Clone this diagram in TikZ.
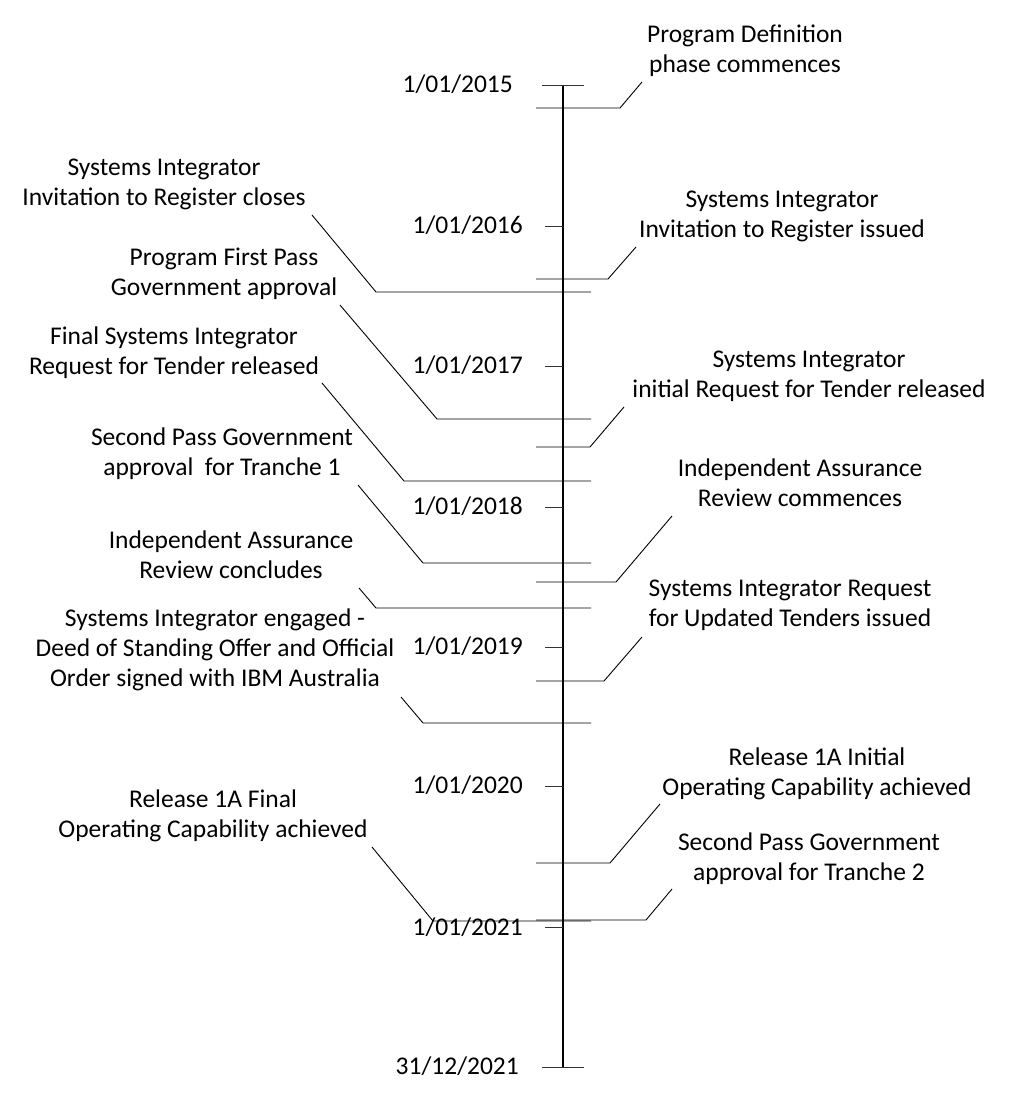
\documentclass[tikz,border=0pt]{standalone}
\usepackage{fontspec}
\setmainfont{Carlito}
\begin{document}
\begin{tikzpicture}[x=1pt,y=-1pt,
  lab/.style={font=\fontsize{25.5}{30}\selectfont, align=center, inner sep=0pt},
  datelab/.style={font=\fontsize{25.5}{30}\selectfont, anchor=east, inner sep=0pt},
  axisline/.style={line width=1.3pt, black},
  evline/.style={line width=0.9pt, black},
  tickline/.style={line width=0.9pt, black!80}]
\fill[white] (0,0) rectangle (1013,1104);
\useasboundingbox (0,0) rectangle (1013,1104);

% axis
\coordinate (top) at (563,85);
\coordinate (bot) at (563,1067);
\coordinate (capTL) at (542,85);
\coordinate (capTR) at (584,85);
\coordinate (capBL) at (542,1067);
\coordinate (capBR) at (584,1067);
\draw[axisline] (top) -- (bot);
\draw[tickline] (capTL) -- (capTR);
\draw[tickline] (capBL) -- (capBR);

% year ticks
\foreach \yr/\yy in {2016/226,2017/366,2018/507,2019/647,2020/786,2021/927}{
  \coordinate (tk\yr a) at (545,\yy);
  \coordinate (tk\yr b) at (563,\yy);
  \draw[tickline] (tk\yr a) -- (tk\yr b);
}

% date labels
\node[datelab] (d2015) at (513,86) {\strut 1/01/2015};
\node[datelab] (d2016) at (523,227) {\strut 1/01/2016};
\node[datelab] (d2017) at (523,367) {\strut 1/01/2017};
\node[datelab] (d2018) at (523,508) {\strut 1/01/2018};
\node[datelab] (d2019) at (523,648) {\strut 1/01/2019};
\node[datelab] (d2020) at (523,787) {\strut 1/01/2020};
\node[datelab] (d2021) at (523,929) {\strut 1/01/2021};
\node[datelab] (d2021e) at (519,1068) {\strut 31/12/2021};

% ---------- right events ----------
\coordinate (r1a) at (536,108); \coordinate (r1b) at (620,108); \coordinate (r1c) at (642,82);
\node[lab] (r1) at (745,51) {\strut Program Definition\\\strut phase commences};
\draw[evline] (r1a) -- (r1b) -- (r1c);

\coordinate (r2a) at (536,279); \coordinate (r2b) at (608,279); \coordinate (r2c) at (636,247);
\node[lab] (r2) at (782,216) {\strut Systems Integrator\\\strut Invitation to Register issued};
\draw[evline] (r2a) -- (r2b) -- (r2c);

\coordinate (r3a) at (536,447); \coordinate (r3b) at (590,447); \coordinate (r3c) at (624,407);
\node[lab] (r3) at (809,376) {\strut Systems Integrator\\\strut initial Request for Tender released};
\draw[evline] (r3a) -- (r3b) -- (r3c);

\coordinate (r4a) at (536,582); \coordinate (r4b) at (616,582); \coordinate (r4c) at (672,516);
\node[lab] (r4) at (800,485) {\strut Independent Assurance\\\strut Review commences};
\draw[evline] (r4a) -- (r4b) -- (r4c);

\coordinate (r5a) at (536,681); \coordinate (r5b) at (604,681); \coordinate (r5c) at (642,637);
\node[lab] (r5) at (790,605) {\strut Systems Integrator Request\\\strut for Updated Tenders issued};
\draw[evline] (r5a) -- (r5b) -- (r5c);

\coordinate (r6a) at (536,863); \coordinate (r6b) at (610,863); \coordinate (r6c) at (660,804);
\node[lab] (r6) at (817,774) {\strut Release 1A Initial\\\strut Operating Capability achieved};
\draw[evline] (r6a) -- (r6b) -- (r6c);

\coordinate (r7a) at (536,920); \coordinate (r7b) at (646,920); \coordinate (r7c) at (672,889);
\node[lab] (r7) at (809,859) {\strut Second Pass Government\\\strut approval for Tranche 2};
\draw[evline] (r7a) -- (r7b) -- (r7c);

% ---------- left events ----------
\coordinate (l1a) at (591,292); \coordinate (l1b) at (376,292); \coordinate (l1c) at (312,215);
\node[lab] (l1) at (164,184) {\strut Systems Integrator\\\strut Invitation to Register closes};
\draw[evline] (l1a) -- (l1b) -- (l1c);

\coordinate (l2a) at (591,419); \coordinate (l2b) at (437,419); \coordinate (l2c) at (340,305);
\node[lab] (l2) at (224,274) {\strut Program First Pass\\\strut Government approval};
\draw[evline] (l2a) -- (l2b) -- (l2c);

\coordinate (l3a) at (591,481); \coordinate (l3b) at (404,481); \coordinate (l3c) at (322,383);
\node[lab] (l3) at (174,353) {\strut Final Systems Integrator\\\strut Request for Tender released};
\draw[evline] (l3a) -- (l3b) -- (l3c);

\coordinate (l4a) at (591,563); \coordinate (l4b) at (423,563); \coordinate (l4c) at (358,485);
\node[lab] (l4) at (222,454) {\strut Second Pass Government\\\strut approval~ for Tranche 1};
\draw[evline] (l4a) -- (l4b) -- (l4c);

\coordinate (l5a) at (591,608); \coordinate (l5b) at (376,608); \coordinate (l5c) at (359,588);
\node[lab] (l5) at (231,557) {\strut Independent Assurance\\\strut Review concludes};
\draw[evline] (l5a) -- (l5b) -- (l5c);

\coordinate (l6a) at (591,723); \coordinate (l6b) at (423,723); \coordinate (l6c) at (401,697);
\node[lab] (l6) at (215,650) {\strut Systems Integrator engaged -\\\strut Deed of Standing Offer and Official\\\strut Order signed with IBM Australia};
\draw[evline] (l6a) -- (l6b) -- (l6c);

\coordinate (l7a) at (591,921); \coordinate (l7b) at (433,921); \coordinate (l7c) at (372,847);
\node[lab] (l7) at (213,816) {\strut Release 1A Final\\\strut Operating Capability achieved};
\draw[evline] (l7a) -- (l7b) -- (l7c);
\end{tikzpicture}
\end{document}
